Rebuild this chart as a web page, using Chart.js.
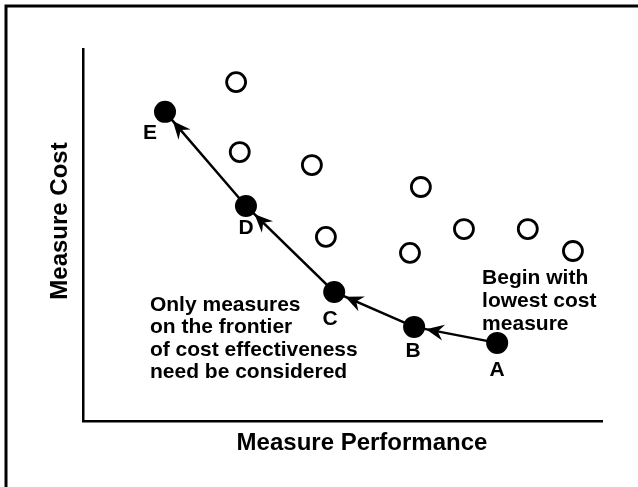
<!DOCTYPE html>
<html>
<head>
<meta charset="utf-8">
<script src="https://cdn.jsdelivr.net/npm/chart.js@4.4.0/dist/chart.umd.min.js"></script>
<style>
  html, body { margin: 0; padding: 0; background: #fff; }
  #wrap { width: 638px; height: 487px; }
</style>
</head>
<body>
<div id="wrap"><canvas id="costChart" width="638" height="487"></canvas></div>
<script>
// measures on the frontier, in the order they are taken (A -> E)
const frontierLabels = ['A', 'B', 'C', 'D', 'E'];
const frontierPerf = [79.8, 63.8, 48.4, 31.4, 15.8];
const frontierCost = [21.0, 25.3, 34.7, 57.8, 83.1];

// the other measures (not cost effective)
const otherPerf = [29.5, 30.2, 44.1, 65.1, 46.8, 63.0, 73.4, 85.7, 94.4];
const otherCost = [91.1, 72.3, 68.8, 62.9, 49.5, 45.2, 51.6, 51.6, 45.7];

const xTitle = 'Measure Performance';
const yTitle = 'Measure Cost';
const noteLeft = ['Only measures', 'on the frontier', 'of cost effectiveness', 'need be considered'];
const noteRight = ['Begin with', 'lowest cost', 'measure'];

const FONT = '"Liberation Sans", Arial, Helvetica, sans-serif';

// label offsets (px) from each frontier point
const labelOffsets = {A: [0, 27], B: [-1, 24], C: [-4, 27], D: [0, 22], E: [-15, 21]};

const sketchPlugin = {
    id: 'sketch',
    beforeDraw(chart) {
        const ctx = chart.ctx;
        ctx.save();
        ctx.fillStyle = '#fff';
        ctx.fillRect(0, 0, chart.width, chart.height);
        // frame, top and left only
        ctx.strokeStyle = '#000';
        ctx.lineWidth = 3;
        ctx.beginPath();
        ctx.moveTo(4.5, 6);
        ctx.lineTo(chart.width, 6);
        ctx.moveTo(6, 4.5);
        ctx.lineTo(6, chart.height);
        ctx.stroke();
        ctx.restore();
    },
    afterDatasetsDraw(chart) {
        const ctx = chart.ctx;
        const xs = chart.scales.x;
        const ys = chart.scales.y;
        const pts = frontierPerf.map((v, i) => [xs.getPixelForValue(v), ys.getPixelForValue(frontierCost[i])]);

        ctx.save();
        ctx.fillStyle = '#000';

        // arrowheads pointing at the next measure
        for (let i = 0; i < pts.length - 1; i++) {
            const [x0, y0] = pts[i];
            const [x1, y1] = pts[i + 1];
            const d = Math.hypot(x1 - x0, y1 - y0);
            const ux = (x1 - x0) / d, uy = (y1 - y0) / d;
            const px = -uy, py = ux;
            const tx = x1 - ux * 12, ty = y1 - uy * 12;
            const bx = tx - ux * 18, by = ty - uy * 18;
            ctx.beginPath();
            ctx.moveTo(tx, ty);
            ctx.lineTo(bx + px * 8, by + py * 8);
            ctx.lineTo(bx + ux * 6, by + uy * 6);
            ctx.lineTo(bx - px * 8, by - py * 8);
            ctx.closePath();
            ctx.fill();
        }

        // point letters
        ctx.font = 'bold 21px ' + FONT;
        ctx.textAlign = 'center';
        ctx.textBaseline = 'middle';
        frontierLabels.forEach((lab, i) => {
            const off = labelOffsets[lab];
            ctx.fillText(lab, pts[i][0] + off[0], pts[i][1] + off[1]);
        });

        // notes
        ctx.textAlign = 'left';
        const lx = xs.getPixelForValue(12.9), ly = ys.getPixelForValue(31.2);
        noteLeft.forEach((t, i) => ctx.fillText(t, lx, ly + i * 22.5));
        const rx = xs.getPixelForValue(76.9), ry = ys.getPixelForValue(38.4);
        noteRight.forEach((t, i) => ctx.fillText(t, rx, ry + i * 23));

        // axis titles
        ctx.font = 'bold 24px ' + FONT;
        ctx.textAlign = 'center';
        ctx.fillText(xTitle, 362, 443);
        ctx.translate(60, 221);
        ctx.rotate(-Math.PI / 2);
        ctx.fillText(yTitle, 0, 0);
        ctx.restore();
    }
};

const ctx = document.getElementById('costChart').getContext('2d');
const costChart = new Chart(ctx, {
    type: 'scatter',
    data: {
        datasets: [{
            label: 'Frontier',
            data: frontierPerf.map((v, i) => ({x: v, y: frontierCost[i]})),
            showLine: true,
            borderColor: '#000',
            borderWidth: 2.5,
            pointRadius: 11,
            pointHoverRadius: 11,
            pointBackgroundColor: '#000',
            pointBorderColor: '#000',
            pointBorderWidth: 0
        }, {
            label: 'Other measures',
            data: otherPerf.map((v, i) => ({x: v, y: otherCost[i]})),
            pointRadius: 9.5,
            pointHoverRadius: 9.5,
            pointBackgroundColor: '#fff',
            pointBorderColor: '#000',
            pointBorderWidth: 2.8
        }]
    },
    options: {
        responsive: false,
        animation: false,
        layout: {
            padding: {left: 83, top: 49, right: 36, bottom: 66}
        },
        plugins: {
            legend: {display: false},
            tooltip: {enabled: false}
        },
        scales: {
            x: {
                min: 0,
                max: 100,
                ticks: {display: false},
                grid: {display: false, drawTicks: false},
                border: {display: true, color: '#000', width: 2.5}
            },
            y: {
                min: 0,
                max: 100,
                ticks: {display: false},
                grid: {display: false, drawTicks: false},
                border: {display: true, color: '#000', width: 2.5}
            }
        }
    },
    plugins: [sketchPlugin]
});
</script>
</body>
</html>
